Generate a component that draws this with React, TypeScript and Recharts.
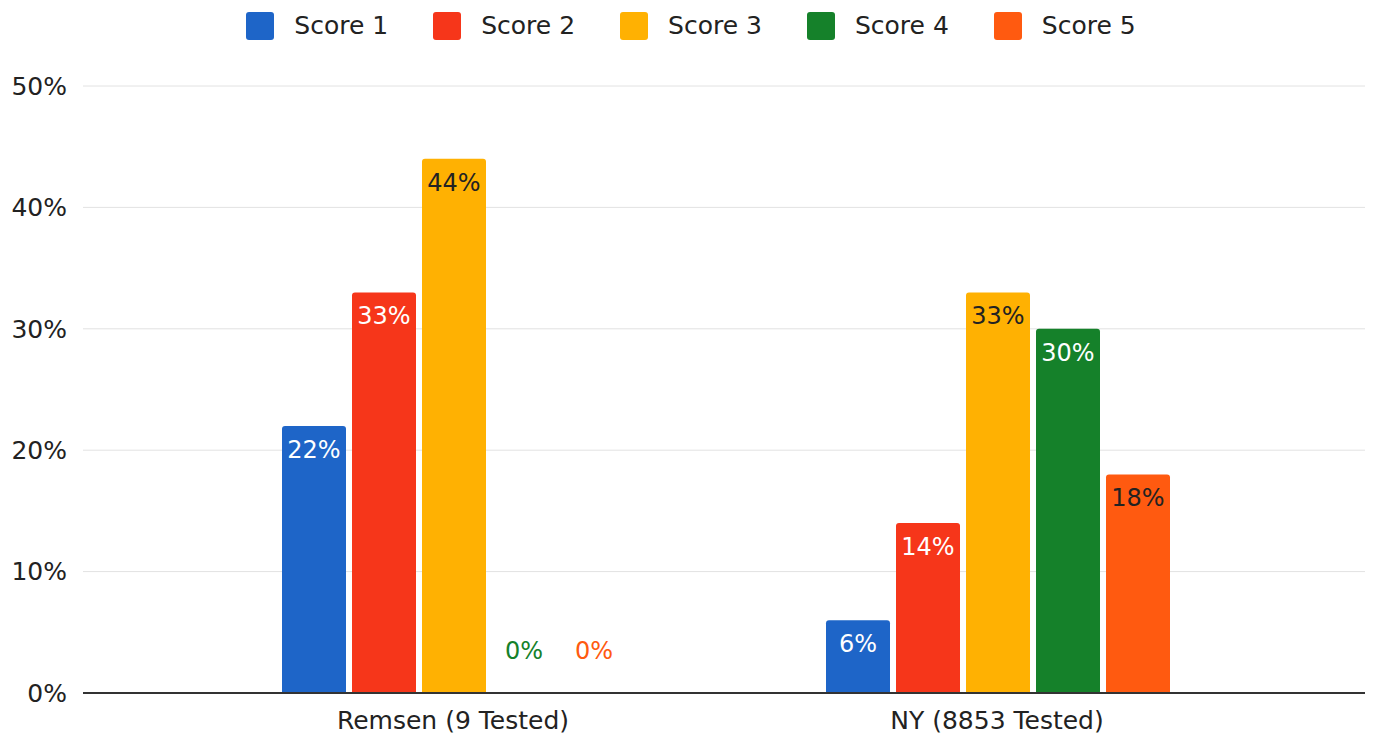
import React from "react";
import { BarChart, Bar, XAxis, YAxis, CartesianGrid, LabelList, Rectangle } from "recharts";

const categories = ["Remsen (9 Tested)", "NY (8853 Tested)"];
const score1 = [22, 6];
const score2 = [33, 14];
const score3 = [44, 33];
const score4 = [0, 30];
const score5 = [0, 18];
const seriesNames = ["Score 1", "Score 2", "Score 3", "Score 4", "Score 5"];
const yTicks = [0, 10, 20, 30, 40, 50];

const colors = ["#1E65C8", "#F6361A", "#FFB102", "#15812A", "#FF5A10"];
// text colour for labels sitting inside the bar
const inside = ["#fff", "#fff", "#222", "#fff", "#222"];

const FONT = "'DejaVu Sans', sans-serif";

const data = categories.map((name, i) => ({
  name,
  s1: score1[i],
  s2: score2[i],
  s3: score3[i],
  s4: score4[i],
  s5: score5[i],
}));

const keys = ["s1", "s2", "s3", "s4", "s5"];

const makeLabel = (idx: number) => (props: any) => {
  const { x, y, width, height } = props;
  let value = props.value;
  if (Array.isArray(value)) value = value[1];
  const cx = Number(x) + Number(width) / 2;
  if (!value) {
    // zero bars keep a 1px stub (hidden), label floats above the baseline
    const base = Number(y) + Number(height);
    return (
      <text x={cx} y={base - 42} textAnchor="middle" dominantBaseline="central"
        fontFamily={FONT} fontSize={24} fill={colors[idx]}>
        {value}%
      </text>
    );
  }
  return (
    <text x={cx} y={Number(y) + 24} textAnchor="middle" dominantBaseline="central"
      fontFamily={FONT} fontSize={24} fill={inside[idx]}>
      {value}%
    </text>
  );
};

const makeShape = (k: string) => (p: any) =>
  p.payload && p.payload[k] === 0 ? <g /> : <Rectangle {...p} radius={[3, 3, 0, 0]} />;

const App = () => {
  return (
    <div style={{ position: "relative", width: 1366, height: 732, fontFamily: FONT }}>
      <div
        style={{
          position: "absolute",
          top: 3,
          left: 0,
          width: 1366,
          display: "flex",
          justifyContent: "center",
          gap: 45,
        }}
      >
        {seriesNames.map((n, i) => (
          <div key={n} style={{ display: "flex", alignItems: "center" }}>
            <div style={{ width: 28, height: 28, background: colors[i], borderRadius: 3, marginRight: 20 }} />
            <span style={{ fontSize: 25, color: "#222" }}>{n}</span>
          </div>
        ))}
      </div>
      <BarChart
        width={1366}
        height={732}
        data={data}
        margin={{ top: 78, right: 9, left: 0, bottom: 7 }}
        barCategoryGap={101}
        barGap={6}
      >
        <CartesianGrid vertical={false} stroke="#E2E2E2" />
        <XAxis
          dataKey="name"
          padding={{ left: 98, right: 96 }}
          height={40}
          tickLine={false}
          tickSize={0}
          tickMargin={18}
          axisLine={{ stroke: "#333", strokeWidth: 2 }}
          tick={{ fontFamily: FONT, fontSize: 25, fill: "#222" }}
        />
        <YAxis
          domain={[0, 50]}
          ticks={yTicks}
          tickFormatter={(v) => `${v}%`}
          width={75}
          axisLine={false}
          tickLine={false}
          tickSize={0}
          tickMargin={16}
          tick={{ fontFamily: FONT, fontSize: 25, fill: "#222" }}
        />
        {keys.map((k, i) => (
          <Bar
            key={k}
            dataKey={k}
            name={seriesNames[i]}
            fill={colors[i]}
            minPointSize={(v: number) => (v === 0 ? 1 : 0)}
            shape={makeShape(k)}
            isAnimationActive={false}
          >
            <LabelList dataKey={k} content={makeLabel(i)} />
          </Bar>
        ))}
      </BarChart>
    </div>
  );
};

export default App;
